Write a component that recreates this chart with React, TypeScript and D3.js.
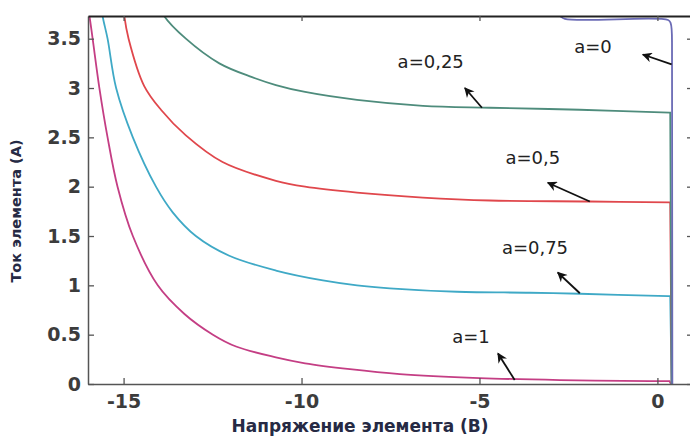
import React, {useRef, useEffect} from 'react'
import * as d3 from 'd3'

// a = 1
const a1V = [-16.05, -15.96, -15.87, -15.68, -15.45, -15.17, -14.74, -14.04, -13.29, -12.49, -11.84, -10.72, -9.9, -8.64, -7.24, -5, -2.74, -0.2, 0.34, 0.38]
const a1I = [3.9, 3.73, 3.5, 3.0, 2.5, 2.0, 1.5, 1.0, 0.71, 0.5, 0.38, 0.27, 0.21, 0.15, 0.1, 0.06, 0.04, 0.03, 0.03, 0]
// a = 0.75
const a075V = [-15.65, -15.59, -15.45, -15.21, -14.74, -14.09, -13.62, -12.97, -12.03, -10.72, -9.4, -8.44, -7.52, -5.63, -3.58, -2.18, 0.3, 0.36, 0.4]
const a075I = [3.9, 3.73, 3.5, 3.0, 2.5, 2.0, 1.74, 1.5, 1.3, 1.15, 1.05, 1.0, 0.97, 0.935, 0.925, 0.915, 0.89, 0.89, 0]
// a = 0.5
const a05V = [-15.02, -14.98, -14.86, -14.42, -13.95, -13.25, -12.22, -10.72, -9.9, -8.44, -6.59, -4.71, -1.9, 0.34, 0.36, 0.4]
const a05I = [3.9, 3.73, 3.5, 3.02, 2.78, 2.52, 2.25, 2.06, 2.0, 1.94, 1.89, 1.86, 1.85, 1.84, 1.84, 0]
// a = 0.25
const a025V = [-14.05, -13.86, -13.25, -12.31, -11.39, -10.72, -9.9, -8.44, -6.59, -4.71, -2.18, 0.34, 0.36, 0.4]
const a025I = [3.9, 3.73, 3.5, 3.25, 3.11, 3.03, 2.96, 2.88, 2.82, 2.8, 2.78, 2.75, 2.75, 0]
// a = 0
const a0V = [-4.5, -2.8, -2.6, 0.3, 0.37, 0.41, 0.42]
const a0I = [3.78, 3.74, 3.7, 3.69, 3.66, 3.45, 0]

const seriesNames = ['a=1', 'a=0,75', 'a=0,5', 'a=0,25', 'a=0']
const seriesV = [a1V, a075V, a05V, a025V, a0V]
const seriesI = [a1I, a075I, a05I, a025I, a0I]
const seriesColors = ['#c43e84', '#3fa9c6', '#e0474c', '#4e8c7c', '#6b6bb5']

// annotations (data units): label centre, arrow tail, arrow head
const labelV = [-5.24, -3.44, -3.5, -6.37, -1.81]
const labelI = [0.48, 1.38, 2.3, 3.27, 3.42]
const tailV = [-4.01, -2.18, -1.9, -4.93, 0.4]
const tailI = [0.04, 0.92, 1.85, 2.8, 3.24]
const headV = [-4.48, -2.8, -3.08, -5.41, -0.41]
const headI = [0.31, 1.13, 2.04, 3.0, 3.34]

const xTicks = [-15, -10, -5, 0]
const yTicks = [0, 0.5, 1, 1.5, 2, 2.5, 3, 3.5]

const W = 690
const H = 436
const m = {left: 88, top: 16, right: 693, bottom: 384}

function App() {
  const ref: any = useRef<SVGSVGElement>(null)

  useEffect(() => {
    const svg = d3.select(ref.current)
    svg.selectAll('*').remove()

    const x = d3.scaleLinear().domain([-16, 1]).range([m.left, m.right])
    const y = d3.scaleLinear().domain([0, 3.73]).range([m.bottom, m.top])

    const defs = svg.append('defs')
    defs
      .append('clipPath')
      .attr('id', 'plotclip')
      .append('rect')
      .attr('x', m.left)
      .attr('y', m.top)
      .attr('width', m.right - m.left)
      .attr('height', m.bottom - m.top)

    defs
      .append('marker')
      .attr('id', 'arrowhead')
      .attr('viewBox', '0 0 10 10')
      .attr('refX', 9)
      .attr('refY', 5)
      .attr('markerWidth', 13)
      .attr('markerHeight', 10)
      .attr('markerUnits', 'userSpaceOnUse')
      .attr('orient', 'auto')
      .append('path')
      .attr('d', 'M10,5 L0,0 L3,5 L0,10 Z')
      .attr('fill', '#111')

    const line = d3
      .line<number>()
      .x((d: any) => d[0])
      .y((d: any) => d[1])
      .curve(d3.curveCatmullRom.alpha(0.5))

    const g = svg.append('g').attr('clip-path', 'url(#plotclip)')
    seriesV.forEach((vs, k) => {
      const pts: any = vs.map((v, i) => [x(v), y(seriesI[k][i])])
      // smooth curve up to the knee, then a straight drop to zero current
      const last = pts[pts.length - 1]
      const d = line(pts.slice(0, -1)) + `L${last[0]},${last[1]}`
      g.append('path')
        .attr('d', d)
        .attr('fill', 'none')
        .attr('stroke', seriesColors[k])
        .attr('stroke-width', 1.8)
    })

    // axes with inward ticks
    const tickStyle = (sel: any) => {
      sel.select('.domain').attr('stroke', '#555').attr('stroke-width', 1.5)
      sel.selectAll('.tick line').attr('stroke', '#555').attr('stroke-width', 1.3)
      sel
        .selectAll('.tick text')
        .attr('fill', '#3c3c3c')
        .style('font-family', 'DejaVu Sans')
        .style('font-weight', 'bold')
        .style('font-size', '19px')
    }

    svg
      .append('g')
      .attr('transform', `translate(0,${m.bottom})`)
      .call(d3.axisBottom(x).tickValues(xTicks).tickSize(-6).tickSizeOuter(0).tickPadding(11).tickFormat((d: any) => `${d}`))
      .call(tickStyle)
    svg
      .append('g')
      .attr('transform', `translate(${m.left},0)`)
      .call(d3.axisLeft(y).tickValues(yTicks).tickSize(-6).tickSizeOuter(0).tickPadding(7).tickFormat((d: any) => `${d}`))
      .call(tickStyle)
    svg
      .append('g')
      .attr('transform', `translate(0,${m.top})`)
      .call(d3.axisTop(x).tickValues(xTicks).tickSize(-5).tickSizeOuter(0).tickFormat(() => ''))
      .call(tickStyle)
      .select('.domain')
      .attr('stroke', '#222')
      .attr('stroke-width', 2.2)
    svg
      .append('g')
      .attr('transform', `translate(${m.right},0)`)
      .call(d3.axisRight(y).tickValues(yTicks).tickSize(-6).tickSizeOuter(0).tickFormat(() => ''))
      .call(tickStyle)

    // annotations
    seriesNames.forEach((name, k) => {
      svg
        .append('line')
        .attr('x1', x(tailV[k]))
        .attr('y1', y(tailI[k]))
        .attr('x2', x(headV[k]))
        .attr('y2', y(headI[k]))
        .attr('stroke', '#111')
        .attr('stroke-width', 1.8)
        .attr('marker-end', 'url(#arrowhead)')
      svg
        .append('text')
        .attr('x', x(labelV[k]))
        .attr('y', y(labelI[k]))
        .attr('text-anchor', 'middle')
        .attr('dominant-baseline', 'central')
        .attr('fill', '#222')
        .style('font-family', 'DejaVu Sans')
        .style('font-size', '18px')
        .text(name)
    })

    // axis titles
    svg
      .append('text')
      .attr('x', 360)
      .attr('y', 432)
      .attr('text-anchor', 'middle')
      .attr('fill', '#262a44')
      .style('font-family', 'DejaVu Sans')
      .style('font-weight', 'bold')
      .style('font-size', '17px')
      .text('Напряжение элемента (В)')
    svg
      .append('text')
      .attr('transform', 'translate(21,211) rotate(-90)')
      .attr('text-anchor', 'middle')
      .attr('fill', '#262a44')
      .style('font-family', 'DejaVu Sans')
      .style('font-weight', 'bold')
      .style('font-size', '14.5px')
      .text('Ток элемента (А)')
  }, [])

  return (
    <svg
      ref={ref}
      width={W}
      height={H}
      style={{position: 'fixed', left: 0, top: 0, background: '#fff'}}
    />
  )
}

export default App
